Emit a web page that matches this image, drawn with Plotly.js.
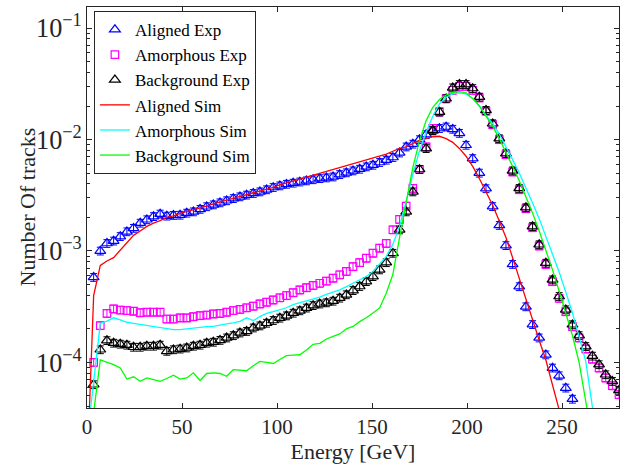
<!DOCTYPE html>
<html>
<head>
<meta charset="utf-8">
<script src="https://cdn.plot.ly/plotly-3.0.1.min.js"></script>
<style>
  html, body { margin: 0; padding: 0; background: #ffffff; }
  #chart { width: 628px; height: 465px; }
</style>
</head>
<body>
<div id="chart"></div>
<script>
// Bin energies (GeV) for the measured spectra
const energyExp = [3.5, 7, 10.5, 14, 17.5, 21, 24.5, 28, 31.5, 35, 38.5, 42, 45.5, 49, 52.5, 56,
  59.5, 63, 66.5, 70, 73.5, 77, 80.5, 84, 87.5, 91, 94.5, 98, 101.5, 105, 108.5, 112, 115.5, 119,
  122.5, 126, 129.5, 133, 136.5, 140, 143.5, 147, 150.5, 154, 157.5, 161, 164.5, 168, 171.5, 175,
  178.5, 182, 185.5, 189, 192.5, 196, 199.5, 203, 206.5, 210, 213.5, 217, 220.5, 224, 227.5, 231,
  234.5, 238, 241.5, 245, 248.5, 252, 255.5, 259, 262.5, 266, 269.5, 273, 276.5, 280];

// Bin energies (GeV) for the simulated spectra
const energySim = [0, 3.5, 7, 10.5, 14, 17.5, 21, 24.5, 28, 31.5, 35, 38.5, 42, 45.5, 49, 52.5, 56,
  59.5, 63, 66.5, 70, 73.5, 77, 80.5, 84, 87.5, 91, 94.5, 98, 101.5, 105, 108.5, 112, 115.5, 119,
  122.5, 126, 129.5, 133, 136.5, 140, 143.5, 147, 150.5, 154, 157.5, 161, 164.5, 168, 171.5, 175,
  178.5, 182, 185.5, 189, 192.5, 196, 199.5, 203, 206.5, 210, 213.5, 217, 220.5, 224, 227.5, 231,
  234.5, 238, 241.5, 245, 248.5, 252, 255.5, 259, 262.5, 266, 269.5, 273, 276.5, 280];

// Measured track fractions
const alignedExp = [5.8e-4, 1.0e-3, 1.17e-3, 1.23e-3, 1.35e-3, 1.49e-3, 1.60e-3, 1.78e-3, 1.91e-3, 2.04e-3,
  2.15e-3, 2.06e-3, 2.09e-3, 2.10e-3, 2.19e-3, 2.25e-3, 2.37e-3, 2.50e-3, 2.60e-3, 2.71e-3,
  2.83e-3, 2.96e-3, 3.07e-3, 3.18e-3, 3.29e-3, 3.40e-3, 3.55e-3, 3.72e-3, 3.85e-3, 3.98e-3,
  4.07e-3, 4.17e-3, 4.27e-3, 4.37e-3, 4.47e-3, 4.54e-3, 4.63e-3, 4.86e-3, 5.04e-3, 5.25e-3,
  5.43e-3, 5.70e-3, 5.90e-3, 6.24e-3, 6.55e-3, 6.92e-3, 7.60e-3, 8.61e-3, 9.12e-3, 1.00e-2,
  1.11e-2, 1.20e-2, 1.26e-2, 1.30e-2, 1.24e-2, 1.14e-2, 8.91e-3, 6.76e-3, 5.01e-3, 3.63e-3,
  2.51e-3, 1.70e-3, 1.12e-3, 7.59e-4, 4.79e-4, 3.16e-4, 2.19e-4, 1.66e-4, 1.17e-4, 8.91e-5,
  7.59e-5, 5.89e-5, 4.68e-5];

const amorphousExp = [1.0e-4, 2.14e-4, 2.75e-4, 3.02e-4, 2.95e-4, 2.92e-4, 2.88e-4, 2.79e-4, 2.82e-4, 2.82e-4,
  2.82e-4, 2.45e-4, 2.45e-4, 2.51e-4, 2.51e-4, 2.57e-4, 2.63e-4, 2.66e-4, 2.72e-4, 2.75e-4,
  2.82e-4, 2.92e-4, 2.99e-4, 3.09e-4, 3.20e-4, 3.35e-4, 3.47e-4, 3.63e-4, 3.80e-4, 3.98e-4,
  4.22e-4, 4.47e-4, 4.68e-4, 4.90e-4, 5.13e-4, 5.37e-4, 5.70e-4, 6.11e-4, 6.55e-4, 7.24e-4,
  7.87e-4, 8.61e-4, 9.55e-4, 1.06e-3, 1.17e-3, 1.55e-3, 1.92e-3, 2.53e-3, 3.65e-3, 5.40e-3,
  8.61e-3, 1.26e-2, 1.77e-2, 2.33e-2, 2.77e-2, 3.01e-2, 3.01e-2, 2.77e-2, 2.37e-2, 1.80e-2,
  1.36e-2, 1.00e-2, 7.33e-3, 5.13e-3, 3.55e-3, 2.40e-3, 1.62e-3, 1.11e-3, 7.59e-4, 5.31e-4,
  3.76e-4, 2.85e-4, 2.09e-4, 1.66e-4, 1.32e-4, 1.07e-4, 8.91e-5, 7.24e-5, 6.17e-5, 5.13e-5];

const backgroundExp = [6.31e-5, 1.30e-4, 1.57e-4, 1.49e-4, 1.46e-4, 1.43e-4, 1.37e-4, 1.37e-4, 1.40e-4, 1.40e-4,
  1.43e-4, 1.26e-4, 1.30e-4, 1.32e-4, 1.35e-4, 1.40e-4, 1.43e-4, 1.49e-4, 1.52e-4, 1.58e-4,
  1.66e-4, 1.74e-4, 1.84e-4, 1.90e-4, 2.04e-4, 2.13e-4, 2.25e-4, 2.38e-4, 2.50e-4, 2.62e-4,
  2.77e-4, 2.91e-4, 3.08e-4, 3.24e-4, 3.35e-4, 3.43e-4, 3.55e-4, 3.78e-4, 4.05e-4, 4.42e-4,
  4.81e-4, 5.32e-4, 5.90e-4, 6.78e-4, 7.87e-4, 9.55e-4, 1.55e-3, 2.25e-3, 3.40e-3, 5.40e-3,
  8.32e-3, 1.21e-2, 1.77e-2, 2.33e-2, 2.92e-2, 3.13e-2, 3.13e-2, 2.88e-2, 2.41e-2, 1.83e-2,
  1.39e-2, 1.02e-2, 7.50e-3, 5.25e-3, 3.65e-3, 2.45e-3, 1.66e-3, 1.14e-3, 7.78e-4, 5.51e-4,
  3.91e-4, 2.97e-4, 2.18e-4, 1.74e-4, 1.39e-4, 1.14e-4, 9.55e-5, 7.76e-5, 6.76e-5, 5.62e-5];

// Simulated track fractions
const alignedSim = [1.0e-5, 3.98e-4, 7.41e-4, 8.13e-4, 8.71e-4, 1.02e-3, 1.20e-3, 1.38e-3, 1.51e-3, 1.66e-3,
  1.78e-3, 1.87e-3, 2.00e-3, 2.06e-3, 2.17e-3, 2.25e-3, 2.32e-3, 2.42e-3, 2.52e-3, 2.64e-3,
  2.75e-3, 2.86e-3, 2.99e-3, 3.11e-3, 3.24e-3, 3.33e-3, 3.45e-3, 3.57e-3, 3.73e-3, 3.91e-3,
  4.07e-3, 4.25e-3, 4.42e-3, 4.57e-3, 4.76e-3, 4.97e-3, 5.19e-3, 5.37e-3, 5.62e-3, 5.86e-3,
  6.11e-3, 6.38e-3, 6.64e-3, 6.92e-3, 7.16e-3, 7.40e-3, 7.85e-3, 8.32e-3, 8.61e-3, 9.23e-3,
  9.89e-3, 1.02e-2, 1.06e-2, 1.07e-2, 1.02e-2, 9.44e-3, 8.32e-3, 7.08e-3, 5.75e-3, 4.47e-3,
  3.40e-3, 2.57e-3, 1.86e-3, 1.32e-3, 8.71e-4, 5.62e-4, 3.80e-4, 2.45e-4, 1.58e-4, 1.05e-4,
  6.46e-5, 3.80e-5, 2.24e-5];

const amorphousSim = [2.0e-5, 6.76e-5, 2.24e-4, 2.34e-4, 2.51e-4, 2.40e-4, 2.29e-4, 2.24e-4, 2.19e-4, 2.14e-4,
  2.09e-4, 2.04e-4, 2.00e-4, 1.97e-4, 1.97e-4, 2.00e-4, 2.04e-4, 2.06e-4, 2.09e-4, 2.10e-4,
  2.14e-4, 2.21e-4, 2.26e-4, 2.33e-4, 2.51e-4, 2.37e-4, 2.57e-4, 2.75e-4, 2.85e-4, 2.97e-4,
  3.09e-4, 3.29e-4, 3.43e-4, 3.52e-4, 3.72e-4, 3.85e-4, 4.07e-4, 4.27e-4, 4.47e-4, 4.79e-4,
  5.13e-4, 5.47e-4, 5.89e-4, 6.55e-4, 7.59e-4, 8.91e-4, 1.15e-3, 1.66e-3, 2.82e-3, 4.90e-3,
  7.94e-3, 1.17e-2, 1.62e-2, 2.09e-2, 2.40e-2, 2.57e-2, 2.62e-2, 2.57e-2, 2.34e-2, 2.00e-2,
  1.66e-2, 1.39e-2, 1.12e-2, 8.71e-3, 6.61e-3, 5.01e-3, 3.72e-3, 2.69e-3, 1.95e-3, 1.35e-3,
  9.55e-4, 6.46e-4, 4.27e-4, 2.77e-4, 1.70e-4, 1.02e-4, 3.98e-5, 2.0e-5];

const backgroundSim = [3.2e-6, 3.55e-5, 1.05e-4, 1.00e-4, 9.55e-5, 8.91e-5, 7.08e-5, 7.41e-5, 6.76e-5, 7.24e-5,
  7.00e-5, 6.76e-5, 7.16e-5, 7.67e-5, 7.08e-5, 7.24e-5, 8.05e-5, 6.87e-5, 7.94e-5, 8.05e-5,
  7.94e-5, 7.50e-5, 8.61e-5, 8.51e-5, 8.41e-5, 9.33e-5, 1.02e-4, 1.00e-4, 9.77e-5, 1.06e-4,
  1.15e-4, 1.16e-4, 1.17e-4, 1.29e-4, 1.45e-4, 1.48e-4, 1.62e-4, 1.71e-4, 1.80e-4, 2.00e-4,
  2.10e-4, 2.32e-4, 2.51e-4, 2.77e-4, 3.08e-4, 4.17e-4, 6.17e-4, 1.32e-3, 2.75e-3, 5.62e-3,
  9.77e-3, 1.48e-2, 1.95e-2, 2.29e-2, 2.51e-2, 2.66e-2, 2.69e-2, 2.63e-2, 2.33e-2, 2.00e-2,
  1.62e-2, 1.32e-2, 1.02e-2, 7.76e-3, 5.75e-3, 4.27e-3, 3.09e-3, 2.19e-3, 1.51e-3, 1.02e-3,
  6.76e-4, 4.37e-4, 2.75e-4, 1.74e-4, 1.00e-4, 4.79e-5, 2.0e-5];

// Relative uncertainty on the measured points (percent)
const expErrorPct = 8;

const xTickVals = [0, 50, 100, 150, 200, 250];

const serif = 'Liberation Serif, Times New Roman, serif';
const axisGrey = '#262626';

function expTrace(name, y, color, symbol, size) {
  return {
    type: 'scatter', mode: 'markers', name: name,
    x: energyExp, y: y,
    marker: { symbol: symbol, size: size, color: color, line: { color: color, width: 1.2 } },
    error_y: { type: 'percent', value: expErrorPct, color: color, thickness: 1, width: 3.5 }
  };
}

function simTrace(name, y, color) {
  return {
    type: 'scatter', mode: 'lines', name: name,
    x: energySim, y: y,
    line: { color: color, width: 1.3 }
  };
}

const data = [
  expTrace('Aligned Exp', alignedExp, '#0000ff', 'triangle-up-open', 9.5),
  expTrace('Amorphous Exp', amorphousExp, '#ff00ff', 'square-open', 7.5),
  expTrace('Background Exp', backgroundExp, '#000000', 'triangle-up-open', 9.5),
  simTrace('Aligned Sim', alignedSim, '#ff0000'),
  simTrace('Amorphous Sim', amorphousSim, '#00ffff'),
  simTrace('Background Sim', backgroundSim, '#00ff00')
];

const layout = {
  width: 628, height: 465,
  margin: { l: 87, r: 9, t: 7, b: 57 },
  paper_bgcolor: '#ffffff', plot_bgcolor: '#ffffff',
  font: { family: serif, size: 21, color: axisGrey },
  showlegend: true,
  legend: {
    x: 0.013, y: 0.99, xanchor: 'left', yanchor: 'top',
    bgcolor: '#ffffff', bordercolor: axisGrey, borderwidth: 1,
    font: { family: serif, size: 17, color: '#000000' },
    tracegroupgap: 0
  },
  xaxis: {
    range: [0, 280],
    tickmode: 'array', tickvals: xTickVals,
    ticks: 'inside', ticklen: 5, tickwidth: 1, tickcolor: axisGrey,
    showline: true, linecolor: axisGrey, linewidth: 1, mirror: 'ticks',
    showgrid: false, zeroline: false,
    tickfont: { family: serif, size: 21, color: axisGrey },
    title: { text: 'Energy [GeV]', font: { family: serif, size: 22, color: axisGrey }, standoff: 4 }
  },
  yaxis: {
    type: 'log', range: [-4.41, -0.81],
    dtick: 1, exponentformat: 'power', showexponent: 'all',
    ticks: 'inside', ticklen: 5, tickwidth: 1, tickcolor: axisGrey,
    minor: { ticks: 'inside', ticklen: 3, dtick: 'D1', tickcolor: axisGrey, showgrid: false },
    showline: true, linecolor: axisGrey, linewidth: 1, mirror: 'ticks',
    showgrid: false, zeroline: false,
    tickfont: { family: serif, size: 21, color: axisGrey }
  },
  // vertical axis label, placed just left of the tick labels
  annotations: [{
    text: 'Number Of tracks', textangle: -90,
    xref: 'paper', yref: 'paper', x: 0, y: 0.5,
    xanchor: 'center', yanchor: 'middle', xshift: -60, showarrow: false,
    font: { family: serif, size: 22, color: axisGrey }
  }]
};

Plotly.newPlot('chart', data, layout, { displayModeBar: false, staticPlot: true });
</script>
</body>
</html>
